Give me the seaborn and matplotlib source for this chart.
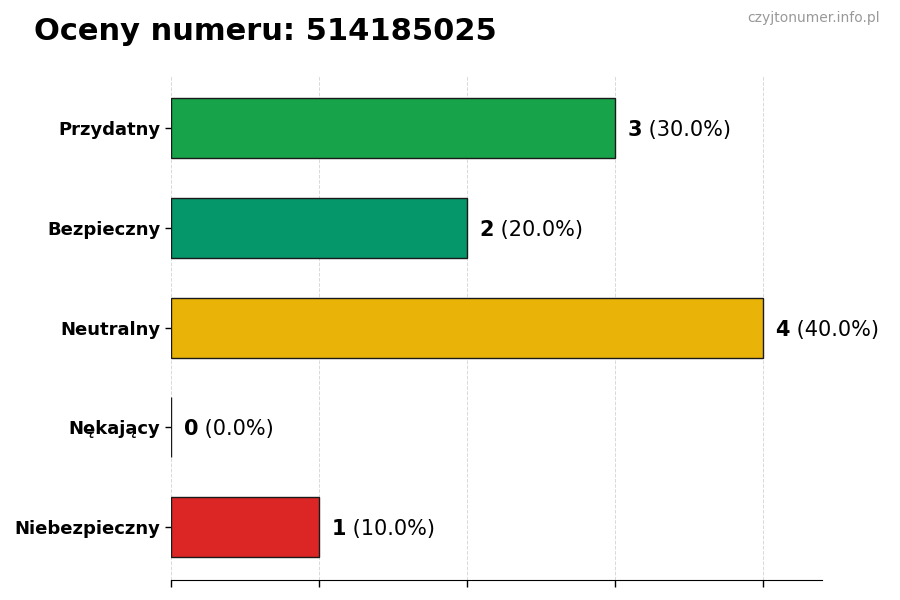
import matplotlib
matplotlib.use("Agg")
import matplotlib.pyplot as plt
import seaborn as sns
import pandas as pd

categories = ["Przydatny", "Bezpieczny", "Neutralny", "Nękający", "Niebezpieczny"]
counts = [3, 2, 4, 0, 1]
colors = ["#16a34a", "#059669", "#eab308", "#6b7280", "#dc2626"]
phone = "514185025"

total = sum(counts)
df = pd.DataFrame({"kategoria": categories, "liczba": counts})

sns.set_style("white")
plt.rcParams["font.family"] = ["DejaVu Sans"]
plt.rcParams["text.color"] = "black"
plt.rcParams["xtick.color"] = "black"
plt.rcParams["ytick.color"] = "black"

fig = plt.figure(figsize=(9, 6), dpi=100)
ax = fig.add_axes([0.19, 0.033, 0.723, 0.842])

sns.barplot(data=df, y="kategoria", x="liczba", hue="kategoria",
            palette=dict(zip(categories, colors)), order=categories,
            width=0.6, saturation=1, edgecolor="#1a1a1a", linewidth=1,
            ax=ax, legend=False, orient="h")

ax.set_xlim(0, 4.4)
ax.set_ylim(4.53, -0.53)
ax.set_xticks(range(0, 5))
ax.set_xticklabels([])
ax.set_xlabel("")
ax.set_ylabel("")
ax.grid(axis="x", linestyle="--", color="#d9d9d9", linewidth=0.7)
ax.set_axisbelow(True)
for s in ["top", "right", "left"]:
    ax.spines[s].set_visible(False)
ax.spines["bottom"].set_color("black")
ax.tick_params(axis="x", bottom=True, length=5, color="black", width=1)
ax.tick_params(axis="y", left=True, length=4, color="black", width=1,
               labelsize=13, labelcolor="black")
for lab in ax.get_yticklabels():
    lab.set_fontweight("bold")

for i, c in enumerate(counts):
    t = ax.text(c + 0.085, i, str(c), fontsize=15, fontweight="bold",
                va="center_baseline", ha="left", color="black")
    ax.annotate(f" ({c / total * 100:.1f}%)", xy=(1, 0.5), xycoords=t,
                va="center", ha="left", fontsize=15, color="black")

fig.text(0.038, 0.947, f"Oceny numeru: {phone}", fontsize=22,
         fontweight="bold", va="center", ha="left", color="black")
fig.text(0.978, 0.97, "czyjtonumer.info.pl", fontsize=10, color="#999999",
         va="center", ha="right")

fig.savefig("out.png", dpi=100)
